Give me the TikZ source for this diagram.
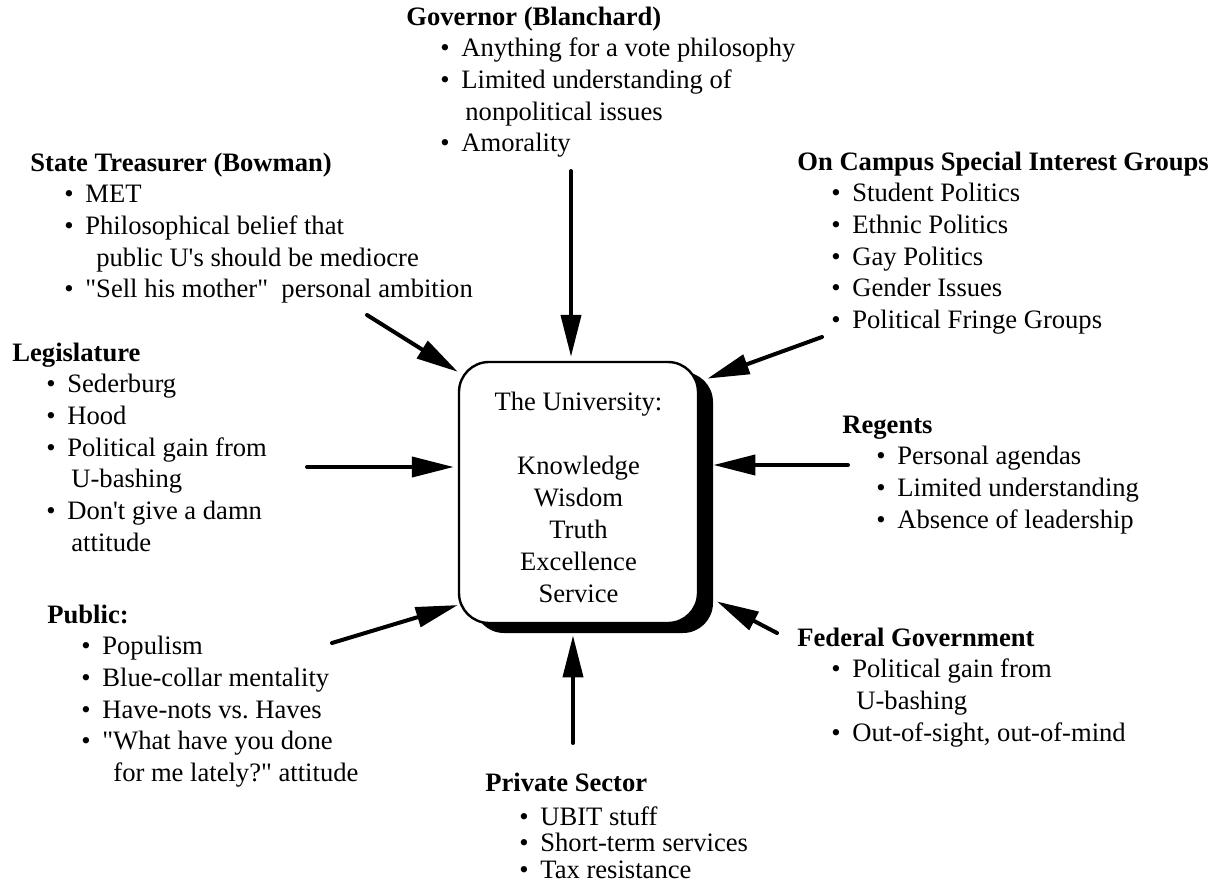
\documentclass[tikz,border=0pt]{standalone}
\usepackage{fontspec}
\setmainfont{Liberation Serif}[Ligatures=TeXOff]
\usetikzlibrary{arrows.meta,calc}
\frenchspacing

\newcommand{\itm}[1]{\hspace*{17pt}\makebox[10.5pt][l]{\textbullet}#1}
\newcommand{\cnt}[2][2pt]{\hspace*{\dimexpr27.5pt+#1\relax}#2}
\newcommand{\lst}[1]{\begin{tabular}[t]{@{}l@{}}#1\end{tabular}}

\tikzset{
  grp/.style={anchor=base west, inner sep=0pt, font=\fontsize{13.3}{15.85}\selectfont},
  unibox/.style={draw, line width=1.2pt, fill=white, rounded corners=15pt,
    minimum width=119.5pt, minimum height=130.5pt, inner sep=0pt, align=center,
    font=\fontsize{13.3}{16}\selectfont},
  shdbox/.style={fill=black, rounded corners=15pt,
    minimum width=119.5pt, minimum height=130.5pt, inner sep=0pt},
  arr/.style={line width=2pt, line cap=round, -{Triangle[length=21pt,width=10pt]}}
}

\begin{document}
\begin{tikzpicture}[x=0.5pt, y=-0.5pt]
\useasboundingbox (0,0) rectangle (1212,890);

% the university
\node[shdbox] (shd) at (593.5,502.5) {};
\node[unibox] (uni) at (578.5,492.5) {\rule{0pt}{14pt}The University:\\[16pt] Knowledge\\ Wisdom\\ Truth\\ Excellence\\ Service};

% pressure groups
\node[grp] (gov) at (406,25) {\lst{\textbf{Governor (Blanchard)}\\
  \itm{Anything for a vote philosophy}\\
  \itm{Limited understanding of}\\
  \cnt{nonpolitical issues}\\
  \itm{Amorality}}};
\node[grp] (tre) at (30,171) {\lst{\textbf{State Treasurer (Bowman)}\\
  \itm{MET}\\
  \itm{Philosophical belief that}\\
  \cnt[5.5pt]{public U's should be mediocre}\\
  \itm{"Sell his mother"\ \ personal ambition}}};
\node[grp] (leg) at (12,361) {\lst{\textbf{Legislature}\\
  \itm{Sederburg}\\
  \itm{Hood}\\
  \itm{Political gain from}\\
  \cnt{U-bashing}\\
  \itm{Don't give a damn}\\
  \cnt{attitude}}};
\node[grp] (pub) at (47,623) {\lst{\textbf{Public:}\\
  \itm{Populism}\\
  \itm{Blue-collar mentality}\\
  \itm{Have-nots vs. Haves}\\
  \itm{"What have you done}\\
  \cnt[5.5pt]{for me lately?" attitude}}};
\node[grp, font=\fontsize{13.3}{13.25}\selectfont] (pri) at (485,791) {\lst{\textbf{Private Sector}\\[3.75pt]
  \itm{UBIT stuff}\\
  \itm{Short-term services}\\
  \itm{Tax resistance}}};
\node[grp] (cam) at (797,170) {\lst{\textbf{On Campus Special Interest Groups}\\
  \itm{Student Politics}\\
  \itm{Ethnic Politics}\\
  \itm{Gay Politics}\\
  \itm{Gender Issues}\\
  \itm{Political Fringe Groups}}};
\node[grp] (reg) at (842,433) {\lst{\textbf{Regents}\\
  \itm{Personal agendas}\\
  \itm{Limited understanding}\\
  \itm{Absence of leadership}}};
\node[grp] (fed) at (797,646) {\lst{\textbf{Federal Government}\\
  \itm{Political gain from}\\
  \cnt{U-bashing}\\
  \itm{Out-of-sight, out-of-mind}}};

% arrows into the box
\coordinate (tGov) at (571,171);
\coordinate (tTre) at (367,315);
\coordinate (tLeg) at (307,467);
\coordinate (tPub) at (332,643);
\coordinate (tPri) at (573,743);
\coordinate (tFed) at (777,633);
\coordinate (tReg) at (848,465);
\coordinate (tCam) at (822,337);

\draw[arr, shorten >=2pt] (tGov) -- (tGov |- uni.north);
\draw[arr] (tTre) -- (uni.135);
\draw[arr, shorten >=2pt] (tLeg) -- (tLeg -| uni.west);
\draw[arr] (tPub) -- (uni.223);
\draw[arr, shorten >=1pt] (tPri) -- (tPri |- shd.south);
\draw[arr, shorten >=2pt] (tFed) -- (shd.-39);
\draw[arr] (tReg) -- (tReg -| shd.east);
\draw[arr] (tCam) -- ($(shd.north east)+(-6,7)$);
\end{tikzpicture}
\end{document}
